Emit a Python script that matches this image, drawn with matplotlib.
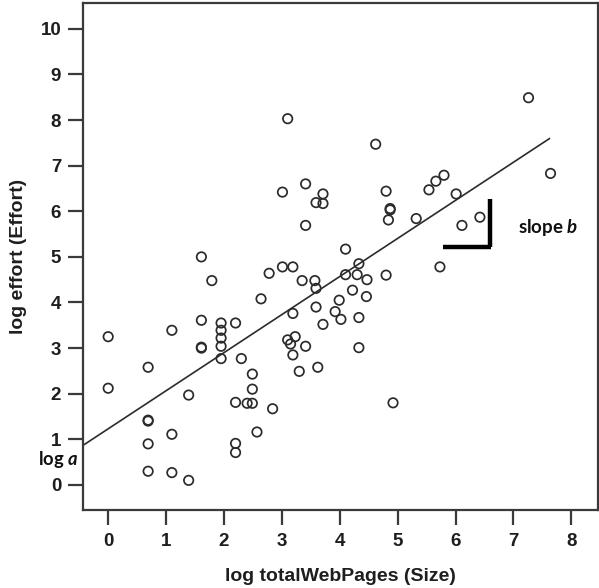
import matplotlib
matplotlib.use("Agg")
import matplotlib.pyplot as plt
import numpy as np

plt.rcParams["mathtext.fontset"] = "custom"
plt.rcParams["mathtext.rm"] = "Lato:bold"
plt.rcParams["mathtext.it"] = "Lato:bold:italic"
plt.rcParams["mathtext.bf"] = "Lato:bold"
plt.rcParams["mathtext.bfit"] = "Lato:bold:italic"

# Data
size_log = [0.00, 0.00, 0.69, 0.69, 0.69, 0.69, 0.69, 1.10, 1.10, 1.10,
            1.39, 1.39, 1.61, 1.61, 1.61, 1.61, 1.79, 1.95, 1.95, 1.95,
            1.95, 1.95, 2.20, 2.20, 2.20, 2.20, 2.30, 2.40, 2.49, 2.49,
            2.49, 2.57, 2.64, 2.78, 2.84, 3.01, 3.01, 3.10, 3.10, 3.15,
            3.19, 3.19, 3.19, 3.23, 3.30, 3.35, 3.41, 3.41, 3.41, 3.57,
            3.59, 3.59, 3.59, 3.62, 3.71, 3.71, 3.71, 3.92, 3.99, 4.02,
            4.10, 4.10, 4.22, 4.30, 4.33, 4.33, 4.33, 4.46, 4.47, 4.62,
            4.80, 4.80, 4.84, 4.87, 4.87, 4.92, 5.32, 5.54, 5.66, 5.73,
            5.80, 6.01, 6.11, 6.42, 7.26, 7.64]
effort_log = [3.25, 2.12, 2.58, 1.42, 1.40, 0.90, 0.30, 3.39, 1.11, 0.27,
              1.97, 0.10, 5.00, 3.61, 3.00, 3.02, 4.48, 3.55, 3.39, 3.22,
              3.04, 2.77, 3.55, 1.81, 0.91, 0.71, 2.77, 1.79, 2.43, 2.10,
              1.79, 1.16, 4.08, 4.64, 1.67, 6.42, 4.78, 8.03, 3.18, 3.09,
              4.78, 3.76, 2.85, 3.25, 2.49, 4.48, 6.60, 5.69, 3.04, 4.48,
              6.19, 4.31, 3.90, 2.58, 6.38, 6.17, 3.52, 3.80, 4.05, 3.63,
              5.17, 4.61, 4.27, 4.61, 4.85, 3.67, 3.01, 4.13, 4.50, 7.47,
              6.44, 4.60, 5.81, 6.03, 6.06, 1.80, 5.84, 6.47, 6.66, 4.78,
              6.79, 6.38, 5.69, 5.87, 8.49, 6.83]

intercept_a = 1.23
slope_b = 0.835
line_x_end = 7.62

x_ticks = list(range(0, 9))
y_ticks = list(range(0, 11))

tick_font = "Liberation Sans"
note_font = "Lato"
dark = "#2b2b2b"

fig = plt.figure(figsize=(5.99, 5.88), dpi=100)
ax = fig.add_axes([82.7 / 599, (588 - 510) / 588, (598 - 82.7) / 599, (510 - 3.3) / 588])

xlim = (-0.44, 8.46)
ylim = (-0.55, 10.56)
ax.set_xlim(*xlim)
ax.set_ylim(*ylim)

ax.scatter(size_log, effort_log, s=46, facecolors="none", edgecolors=dark,
           linewidths=1.25, zorder=3)

lx = np.array([xlim[0], line_x_end])
ax.plot(lx, intercept_a + slope_b * lx, color=dark, lw=1.2, zorder=2)

# slope bracket
ax.plot([5.78, 6.62], [5.22, 5.22], color="black", lw=3.2, solid_capstyle="butt")
ax.plot([6.60, 6.60], [5.22, 6.27], color="black", lw=3.2, solid_capstyle="butt")

ax.text(7.08, 5.65, "slope $\\mathit{b}$", fontsize=13.5, fontweight="bold",
        family=note_font, ha="left", va="center", color="#111111")
ax.text(-0.52, 0.56, "log $\\mathit{a}$", fontsize=13.2, fontweight="bold",
        family=note_font, ha="right", va="center", color="#111111", clip_on=False)

ax.set_xticks(x_ticks)
ax.set_yticks(y_ticks)
ax.set_xticklabels([str(v) for v in x_ticks], fontsize=13.5, fontweight="bold",
                   family=tick_font, color="#1e1e1e")
ax.set_yticklabels([str(v) for v in y_ticks], fontsize=13.5, fontweight="bold",
                   family=tick_font, color="#1e1e1e")
ax.tick_params(axis="both", direction="out", length=10.5, width=1.6, color="#3a3a3a")
ax.tick_params(axis="x", pad=6)
ax.tick_params(axis="y", pad=5)

for sp in ax.spines.values():
    sp.set_linewidth(1.6)
    sp.set_color("#3a3a3a")

ax.set_xlabel("log totalWebPages (Size)", fontsize=14, fontweight="bold",
              family=tick_font, color="#1e1e1e", labelpad=13)
ax.set_ylabel("log effort (Effort)", fontsize=14, fontweight="bold",
              family=tick_font, color="#1e1e1e", labelpad=10)

fig.savefig("out.png", dpi=100)
